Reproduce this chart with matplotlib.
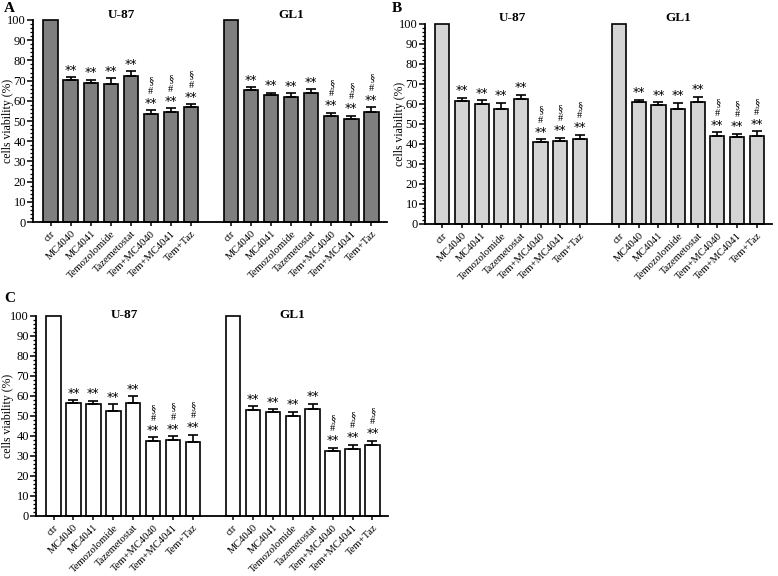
import numpy as np
import matplotlib
matplotlib.use("Agg")
from matplotlib import pyplot as plt
from matplotlib.ticker import MultipleLocator
from matplotlib.transforms import offset_copy

plt.rcParams['font.family'] = ['Liberation Serif', 'DejaVu Serif']

# ---------------------------------------------------------------------------
# data
treatments = ['ctr', 'MC4040', 'MC4041', 'Temozolomide', 'Tazemetostat',
              'Tem+MC4040', 'Tem+MC4041', 'Tem+Taz']
cell_lines = ['U-87', 'GL1']

a_u87 = [100, 70.3, 69.0, 68.3, 72.3, 53.3, 54.6, 56.9]
a_u87_err = [0, 1.3, 1.3, 2.8, 2.3, 2.0, 1.7, 1.4]
a_gl1 = [100, 65.3, 62.7, 62.0, 63.7, 52.5, 50.8, 54.6]
a_gl1_err = [0, 1.4, 1.3, 1.7, 2.1, 1.5, 1.7, 2.3]

b_u87 = [100, 61.6, 60.0, 57.6, 62.6, 40.8, 41.3, 42.5]
b_u87_err = [0, 1.5, 1.8, 2.9, 1.9, 1.6, 1.8, 2.0]
b_gl1 = [100, 60.8, 59.5, 57.5, 61.0, 44.2, 43.5, 44.0]
b_gl1_err = [0, 1.3, 1.3, 3.0, 2.5, 1.8, 1.6, 2.3]

c_u87 = [100, 56.7, 56.0, 52.7, 56.3, 37.7, 37.8, 37.2]
c_u87_err = [0, 1.3, 1.7, 3.1, 3.7, 1.6, 2.2, 3.3]
c_gl1 = [100, 53.2, 52.0, 50.0, 53.5, 32.7, 33.7, 35.7]
c_gl1_err = [0, 1.6, 1.3, 2.2, 2.7, 1.5, 1.8, 1.8]

# significance marks per treatment (bottom -> top)
marks = [[], ['**'], ['**'], ['**'], ['**'],
         ['**', '#', '§'], ['**', '#', '§'], ['**', '#', '§']]


# ===========================================================================
def panel(ax, fig, u87, u87_err, gl1, gl1_err, color, title_y, ax_px):
    pos1 = np.arange(8)
    pos2 = np.arange(8) + 9
    for pos, vals, errs in [(pos1, u87, u87_err), (pos2, gl1, gl1_err)]:
        ax.bar(pos, vals, width=0.72, color=color, edgecolor='black',
               linewidth=1.2, zorder=2, clip_on=False)
        ax.errorbar(pos[1:], vals[1:], yerr=[np.zeros(7), errs[1:]], fmt='none',
                    ecolor='black', elinewidth=1.2, capsize=3.5, capthick=1.2,
                    zorder=3)
        for p, v, e, m in zip(pos, vals, errs, marks):
            # offsets in pixels above the error cap
            offs = [7, 19, 29]
            for k, s in enumerate(m):
                tr = offset_copy(ax.transData, fig=fig, x=0, y=offs[k], units='dots')
                if s == '**':
                    ax.text(p, v + e, s, transform=tr, ha='center', va='center',
                            fontsize=9, family='DejaVu Sans', clip_on=False)
                else:
                    ax.text(p, v + e, s, transform=tr, ha='center', va='center',
                            fontsize=7.5, clip_on=False)

    ax.set_xlim(-0.88, 16.78)
    ax.set_ylim(0, 100)
    ax.set_xticks(list(pos1) + list(pos2))
    ax.set_xticklabels(treatments * 2, rotation=45, ha='right', va='top',
                       rotation_mode='anchor', fontsize=7.6)
    ax.yaxis.set_major_locator(MultipleLocator(10))
    ax.yaxis.set_minor_locator(MultipleLocator(2))
    ax.tick_params(axis='y', which='major', length=4, width=1.1, labelsize=9, pad=1)
    ax.tick_params(axis='y', which='minor', length=2, width=0.9)
    ax.tick_params(axis='x', length=3, width=1.1, pad=2)
    ax.spines['top'].set_visible(False)
    ax.spines['right'].set_visible(False)
    ax.spines['left'].set_linewidth(1.3)
    ax.spines['bottom'].set_linewidth(1.3)
    ax.set_ylabel('cells viability (%)', fontsize=8.5)
    left, right = ax_px
    ax.yaxis.set_label_coords((14 - left) / (right - left), 0.5)

    ax.text(3.55, title_y, cell_lines[0], ha='center', va='center',
            fontsize=9.5, fontweight='bold', clip_on=False)
    ax.text(12.0, title_y, cell_lines[1], ha='center', va='center',
            fontsize=9.5, fontweight='bold', clip_on=False)


fig = plt.figure(figsize=(7.78, 5.76), dpi=100)
W, H = 778, 576

# axes boxes in pixels: left, right, top(100), bottom(0)
ax_a = fig.add_axes([33 / W, 1 - 222 / H, (387 - 33) / W, (222 - 20) / H])
ax_b = fig.add_axes([425 / W, 1 - 224 / H, (772 - 425) / W, (224 - 24) / H])
ax_c = fig.add_axes([36 / W, 1 - 516 / H, (388 - 36) / W, (516 - 316) / H])

panel(ax_a, fig, a_u87, a_u87_err, a_gl1, a_gl1_err, '#7f7f7f', 102.5, (33, 387))
panel(ax_b, fig, b_u87, b_u87_err, b_gl1, b_gl1_err, '#d4d4d4', 103, (425 - 392, 772 - 392))
panel(ax_c, fig, c_u87, c_u87_err, c_gl1, c_gl1_err, 'white', 100.5, (36, 388))

fig.text(4 / W, 1 - 9 / H, 'A', fontsize=11, fontweight='bold', va='center')
fig.text(392 / W, 1 - 9 / H, 'B', fontsize=11, fontweight='bold', va='center')
fig.text(4 / W, 1 - 298 / H, 'C', fontsize=11, fontweight='bold', va='center')

fig.savefig('out.png', dpi=100)
